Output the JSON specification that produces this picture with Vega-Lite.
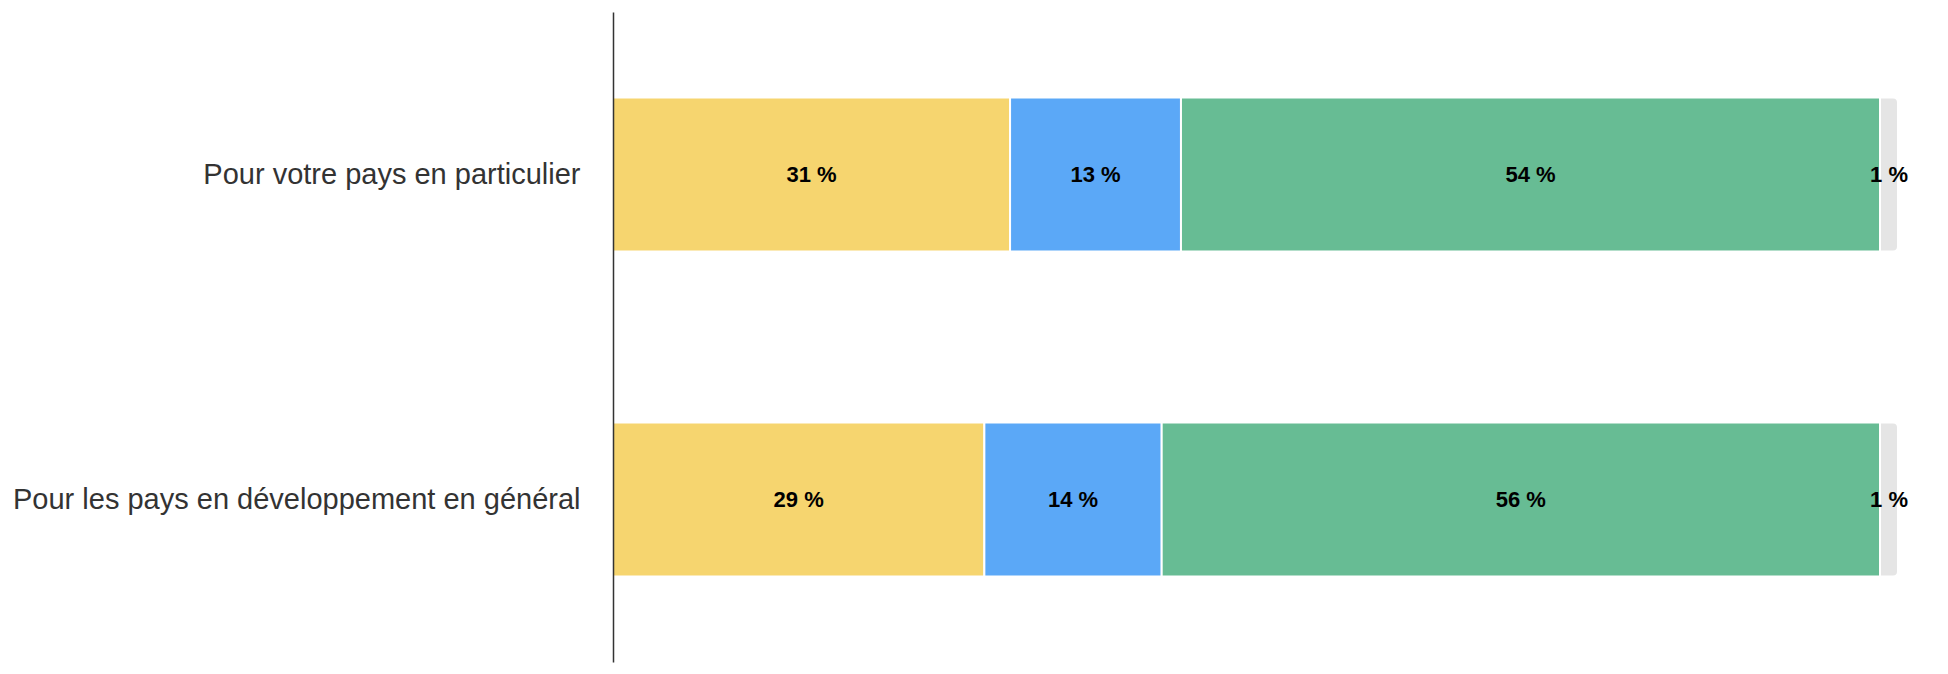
{
  "$schema": "https://vega.github.io/schema/vega-lite/v6.json",
  "width": 1285,
  "height": 650,
  "autosize": {"type": "none"},
  "padding": {"left": 613, "top": 12, "right": 50, "bottom": 12},
  "background": "white",
  "config": {"view": {"stroke": null}},
  "data": {
    "values": [
      {"question": "Pour votre pays en particulier", "reponse": "A", "rang": 1, "valeur": 30.9, "label": "31 %"},
      {"question": "Pour votre pays en particulier", "reponse": "B", "rang": 2, "valeur": 13.3, "label": "13 %"},
      {"question": "Pour votre pays en particulier", "reponse": "C", "rang": 3, "valeur": 54.4, "label": "54 %"},
      {"question": "Pour votre pays en particulier", "reponse": "D", "rang": 4, "valeur": 1.4, "label": "1 %"},
      {"question": "Pour les pays en développement en général", "reponse": "A", "rang": 1, "valeur": 28.9, "label": "29 %"},
      {"question": "Pour les pays en développement en général", "reponse": "B", "rang": 2, "valeur": 13.8, "label": "14 %"},
      {"question": "Pour les pays en développement en général", "reponse": "C", "rang": 3, "valeur": 55.9, "label": "56 %"},
      {"question": "Pour les pays en développement en général", "reponse": "D", "rang": 4, "valeur": 1.4, "label": "1 %"}
    ]
  },
  "encoding": {
    "y": {
      "field": "question",
      "type": "nominal",
      "sort": ["Pour votre pays en particulier", "Pour les pays en développement en général"],
      "scale": {"paddingInner": 0.526, "paddingOuter": 0.263},
      "axis": {
        "title": null,
        "ticks": false,
        "tickSize": 0,
        "labelPadding": 33,
        "labelFont": "Liberation Sans",
        "labelFontSize": 29,
        "labelColor": "#333333",
        "labelLimit": 700,
        "domainColor": "#333333",
        "domainWidth": 1.5,
        "zindex": 1
      }
    }
  },
  "layer": [
    {
      "transform": [{"filter": "datum.rang < 4"}],
      "mark": {"type": "bar", "stroke": "white", "strokeWidth": 2},
      "encoding": {
        "x": {"field": "valeur", "type": "quantitative", "stack": "zero", "scale": {"domain": [0, 100], "nice": false}, "axis": null},
        "order": {"field": "rang", "type": "quantitative"},
        "color": {
          "field": "reponse",
          "type": "nominal",
          "scale": {"domain": ["A", "B", "C", "D"], "range": ["#F6D56F", "#5BA8F7", "#67BC94", "#E5E5E5"]},
          "legend": null
        }
      }
    },
    {
      "transform": [
        {"stack": "valeur", "groupby": ["question"], "sort": [{"field": "rang", "order": "ascending"}], "as": ["debut", "fin"]},
        {"filter": "datum.rang == 4"}
      ],
      "mark": {"type": "bar", "stroke": "white", "strokeWidth": 2, "fill": "#E5E5E5", "cornerRadiusTopRight": 5, "cornerRadiusBottomRight": 5},
      "encoding": {
        "x": {"field": "debut", "type": "quantitative"},
        "x2": {"field": "fin"}
      }
    },
    {
      "mark": {"type": "text", "font": "Liberation Sans", "fontSize": 22, "fontWeight": "bold", "color": "black", "baseline": "middle", "align": "center"},
      "encoding": {
        "x": {"field": "valeur", "type": "quantitative", "stack": "zero", "bandPosition": 0.5},
        "order": {"field": "rang", "type": "quantitative"},
        "text": {"field": "label"}
      }
    }
  ]
}
